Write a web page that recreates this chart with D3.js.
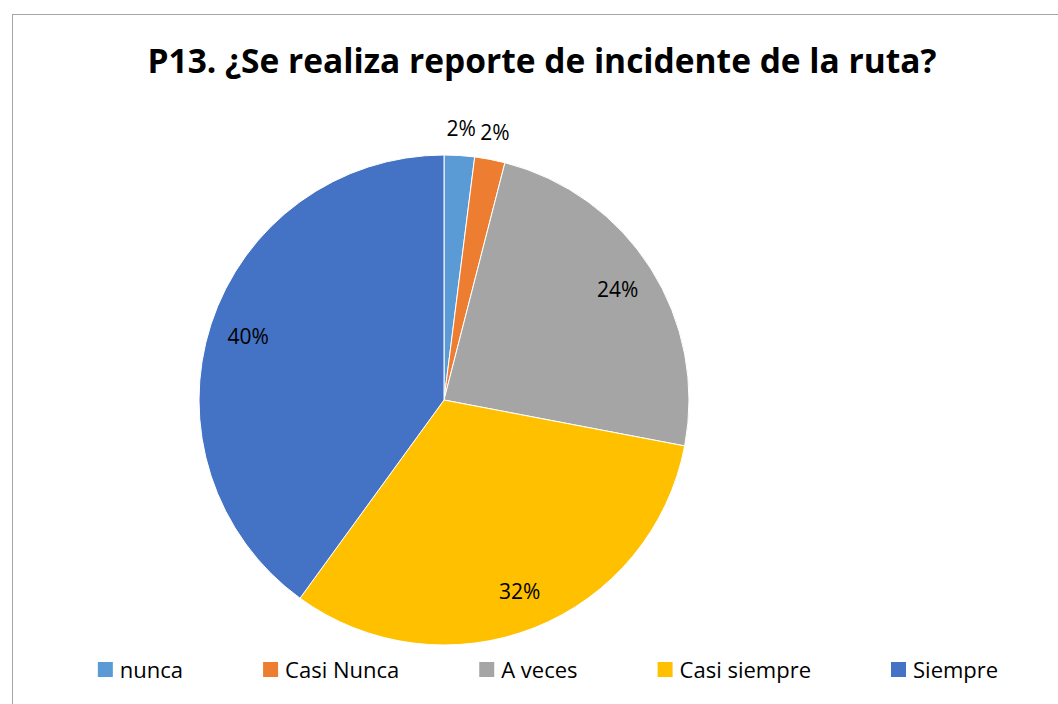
<!DOCTYPE html>
<html>
<head>
<meta charset="utf-8">
<script src="https://cdn.jsdelivr.net/npm/d3@7"></script>
<style>
  body { margin: 0; background: #fff; }
  svg { display: block; }
</style>
</head>
<body>
<div class="main"></div>
<script>
// data
var categories = ["nunca", "Casi Nunca", "A veces", "Casi siempre", "Siempre"];
var shares = [2, 2, 24, 32, 40];
var colors = ["#5B9BD5", "#ED7D31", "#A5A5A5", "#FFC000", "#4472C4"];
var title = "P13. ¿Se realiza reporte de incidente de la ruta?";

var width = 1058, height = 704;
var font = "'Open Sans', 'Noto Sans', sans-serif";

var svg = d3.select("div.main").append("svg")
  .attr("width", width)
  .attr("height", height);

// chart frame (runs off the right and bottom of the page)
svg.append("rect")
  .attr("x", 12.5).attr("y", 14.5)
  .attr("width", 1100).attr("height", 800)
  .attr("fill", "#fff")
  .attr("stroke", "#a6a6a6")
  .attr("stroke-width", 1);

// title, squeezed to the width Calibri would take
svg.append("text")
  .attr("x", 542).attr("y", 73)
  .attr("text-anchor", "middle")
  .style("font-family", font)
  .style("font-weight", "bold")
  .style("font-size", "34px")
  .attr("fill", "#000")
  .attr("textLength", 789)
  .attr("lengthAdjust", "spacingAndGlyphs")
  .text(title);

// pie
var cx = 444, cy = 400, R = 245;
var pie = d3.pie().sort(null).value(function(d) { return d; });
var arcs = pie(shares);
var arc = d3.arc().innerRadius(0).outerRadius(R);
var inLabel = d3.arc().innerRadius(R * 0.84).outerRadius(R * 0.84);
var outLabel = d3.arc().innerRadius(R + 27).outerRadius(R + 27);

var g = svg.append("g").attr("transform", "translate(" + cx + "," + cy + ")");

g.selectAll("path")
  .data(arcs)
  .enter().append("path")
  .attr("d", arc)
  .attr("fill", function(d, i) { return colors[i]; })
  .attr("stroke", "#fff")
  .attr("stroke-width", 1);

g.selectAll("text.lbl")
  .data(arcs)
  .enter().append("text")
  .attr("class", "lbl")
  .attr("transform", function(d) {
    var c = d.value < 5 ? outLabel.centroid(d) : inLabel.centroid(d);
    return "translate(" + c[0] + "," + c[1] + ")";
  })
  .attr("dy", "0.35em")
  .attr("text-anchor", "middle")
  .style("font-family", font)
  .style("font-size", "21px")
  .attr("fill", "#000")
  .text(function(d) { return d.value + "%"; });

// legend
var legend = svg.append("g").attr("class", "legend");
var items = legend.selectAll("g")
  .data(categories)
  .enter().append("g");

items.append("rect")
  .attr("width", 15).attr("height", 15)
  .attr("y", 662)
  .attr("fill", function(d, i) { return colors[i]; });

items.append("text")
  .attr("x", 22)
  .attr("y", 678)
  .style("font-family", font)
  .style("font-size", "22px")
  .attr("fill", "#000")
  .text(function(d) { return d; });

// lay items out side by side, centered
var xpos = 0, offs = [];
items.each(function() {
  var w = d3.select(this).select("text").node().getComputedTextLength();
  offs.push(xpos);
  xpos += 22 + w + 80;
});
var total = xpos - 80;
var start = 548 - total / 2;
items.attr("transform", function(d, i) { return "translate(" + (start + offs[i]) + ",0)"; });
</script>
</body>
</html>
